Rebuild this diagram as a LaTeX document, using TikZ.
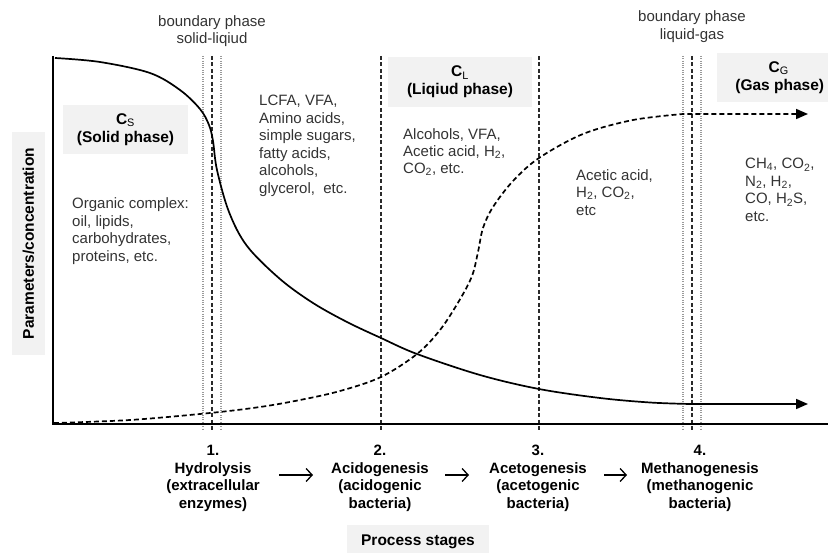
\documentclass[tikz,border=0pt]{standalone}
\usepackage{fontspec}
\setmainfont{Liberation Sans}
\usetikzlibrary{arrows.meta}

\definecolor{txt}{HTML}{333333}
\definecolor{boxfill}{HTML}{F2F2F2}
\definecolor{dotgray}{HTML}{9A9A9A}
\definecolor{linegray}{HTML}{2A2A2A}

\begin{document}
\begin{tikzpicture}[x=1pt,y=-1pt,
  body/.style={font=\fontsize{15}{17.5}\selectfont, text=txt, align=left, inner sep=0pt},
  bodyc/.style={body, align=center},
  phasebox/.style={fill=boxfill, inner sep=0pt, align=center, text=black,
    font=\bfseries\fontsize{15.5}{18}\selectfont},
  stagelbl/.style={font=\bfseries\fontsize{15}{17.5}\selectfont, align=center, inner sep=0pt, text=black},
  axisline/.style={line width=2.4pt, black},
  stageline/.style={line width=1.2pt, linegray, dash pattern=on 4pt off 2.5pt},
  phaseline/.style={line width=1.1pt, dotgray, dash pattern=on 1pt off 1.3pt},
  solidcurve/.style={line width=1.7pt, black, -{Triangle[length=12pt,width=10pt]}},
  dashcurve/.style={line width=1.7pt, black, dash pattern=on 5pt off 3pt, -{Triangle[length=12pt,width=10pt]}},
  stagearrow/.style={line width=1.3pt, black, -{Straight Barb[length=6pt,width=13pt]}}
]
\useasboundingbox (0,0) rectangle (828,553);

% phase boundaries (dotted) and stage boundaries (dashed)
\draw[phaseline] (203,56) -- (203,430);
\draw[phaseline] (221,56) -- (221,430);
\draw[phaseline] (683,56) -- (683,430);
\draw[phaseline] (701,56) -- (701,430);
\draw[stageline] (212,56) -- (212,431);
\draw[stageline] (381,56) -- (381,431);
\draw[stageline] (539,56) -- (539,431);
\draw[stageline] (692,56) -- (692,431);

% shaded phase labels
\node[phasebox, minimum width=125pt, minimum height=49pt] (csbox) at (125.5,129.5)
  {\fontsize{15.5}{15}\selectfont C\textsubscript{\mdseries S}\\(Solid phase)};
\node[phasebox, minimum width=144pt, minimum height=50pt] (clbox) at (460,82)
  {C\textsubscript{\mdseries L}\\(Liqiud phase)};
\node[phasebox, minimum width=125pt, minimum height=49pt, anchor=west] (cgbox) at (717,77.5)
  {\hspace*{-2pt}C\textsubscript{\mdseries G}\\(Gas phase)};

% concentration of the solid phase
\draw[solidcurve] plot[smooth, tension=0.55] coordinates {
  (55,58) (100,62) (150,73) (180,90) (200,109) (209,125) (213,141) (217,170)
  (229,212) (247,246) (280,279) (313,303) (347,322) (381,338) (417,354)
  (480,375) (539,389) (600,398) (650,402.5) (690,404)} -- (808,404);

% concentration of the liquid/gas products
\draw[dashcurve] plot[smooth, tension=0.55] coordinates {
  (54,423) (130,420) (210,413) (260,407) (300,400) (340,391) (381,377)
  (417,354) (440,330) (459,301) (472,276) (478,252) (483,228) (493,207)
  (513,181) (539,158) (583,134) (633,120) (683,114)} -- (808,114);

% axes
\draw[axisline] (53,56) -- (53,425);
\draw[axisline] (52,424) -- (830,424);

% axis titles
\node[phasebox, rotate=90, minimum width=223pt, minimum height=33pt] (ylbl) at (28.5,243.5)
  {Parameters/concentration};
\node[phasebox, minimum width=142pt, minimum height=34pt] (xlbl) at (418,542)
  {Process stages};

% boundary captions
\node[bodyc, anchor=north] (bsl) at (212,15) {boundary phase\\solid-liqiud};
\node[bodyc, anchor=north] (blg) at (692,10.5) {boundary phase\\liquid-gas};

% compounds per zone
\node[body, anchor=north west] (orgc) at (72,197.5)
  {Organic complex:\\oil, lipids,\\carbohydrates,\\proteins, etc.};
\node[body, anchor=north west] (hydp) at (259,95)
  {LCFA, VFA,\\Amino acids,\\simple sugars,\\fatty acids,\\alcohols,\\glycerol,\ \ etc.};
\node[body, anchor=north west, font=\fontsize{15}{17}\selectfont] (acip) at (403,128)
  {Alcohols, VFA,\\Acetic acid, H\textsubscript{2},\\CO\textsubscript{2}, etc.};
\node[body, anchor=north west] (acep) at (576,169)
  {Acetic acid,\\H\textsubscript{2}, CO\textsubscript{2},\\etc};
\node[body, anchor=north west] (metp) at (745,158)
  {CH\textsubscript{4}, CO\textsubscript{2},\\N\textsubscript{2}, H\textsubscript{2},\\CO, H\textsubscript{2}S,\\etc.};

% process stages
\node[stagelbl, anchor=north] (st1) at (213,445) {1.\\Hydrolysis\\(extracellular\\enzymes)};
\node[stagelbl, anchor=north] (st2) at (380,445) {2.\\Acidogenesis\\(acidogenic\\bacteria)};
\node[stagelbl, anchor=north] (st3) at (538,445) {3.\\Acetogenesis\\(acetogenic\\bacteria)};
\node[stagelbl, anchor=north] (st4) at (700,445) {4.\\Methanogenesis\\(methanogenic\\bacteria)};

\coordinate (a1s) at (279,475);
\coordinate (a1e) at (313,475);
\coordinate (a2s) at (445,475);
\coordinate (a2e) at (469,475);
\coordinate (a3s) at (604,475);
\coordinate (a3e) at (627,475);
\draw[stagearrow] (a1s) -- (a1e);
\draw[stagearrow] (a2s) -- (a2e);
\draw[stagearrow] (a3s) -- (a3e);
\end{tikzpicture}
\end{document}
